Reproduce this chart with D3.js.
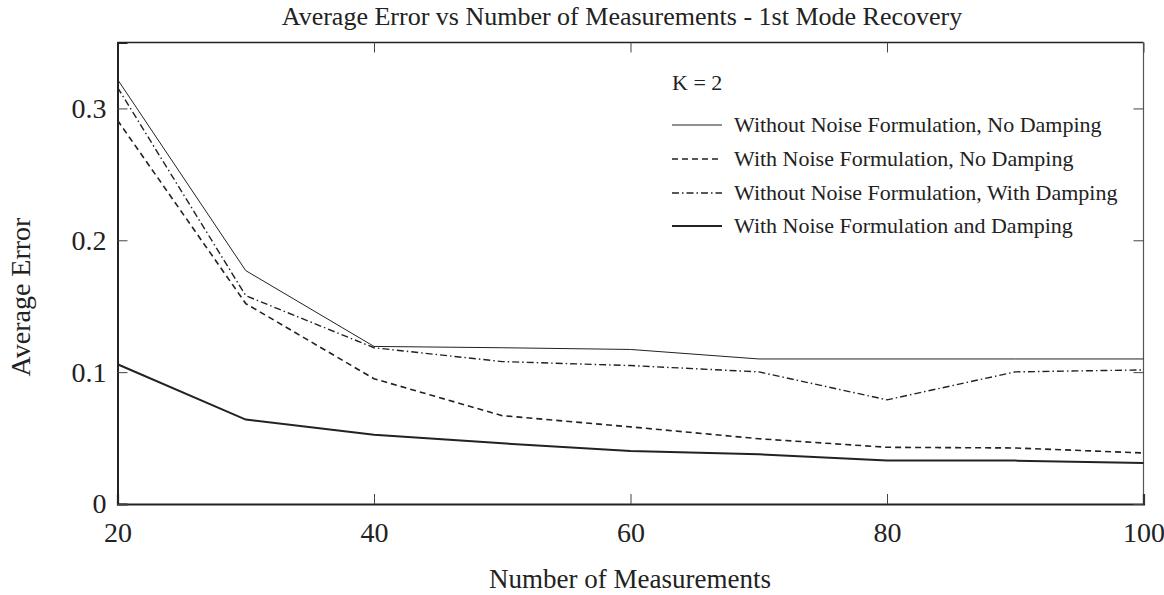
<!DOCTYPE html>
<html>
<head>
<meta charset="utf-8">
<script src="https://cdn.jsdelivr.net/npm/d3@7"></script>
<style>
  html, body { margin: 0; padding: 0; background: #fff; }
  svg { display: block; }
  text { font-family: "Liberation Serif", "Times New Roman", serif; fill: #222; }
</style>
</head>
<body>
<svg id="chart" width="1164" height="595"></svg>
<script>
// Number of measurements along the x axis
const measurements = [20, 30, 40, 50, 60, 70, 80, 90, 100];

// Average error for each configuration (K = 2)
const withoutNoiseNoDamping   = [0.322, 0.177, 0.1195, 0.1185, 0.1172, 0.110, 0.110, 0.110, 0.110];
const withNoiseNoDamping      = [0.291, 0.152, 0.0950, 0.0670, 0.0585, 0.0495, 0.0430, 0.0425, 0.0387];
const withoutNoiseWithDamping = [0.316, 0.158, 0.1185, 0.1080, 0.1050, 0.1002, 0.0790, 0.1002, 0.1017];
const withNoiseAndDamping     = [0.106, 0.064, 0.0525, 0.0460, 0.0402, 0.0377, 0.0330, 0.0329, 0.0311];

const xTicks = [20, 40, 60, 80, 100];
const yTicks = [0, 0.1, 0.2, 0.3];

const seriesNames = [
  "Without Noise Formulation, No Damping",
  "With Noise Formulation, No Damping",
  "Without Noise Formulation, With Damping",
  "With Noise Formulation and Damping"
];

const seriesValues = [withoutNoiseNoDamping, withNoiseNoDamping, withoutNoiseWithDamping, withNoiseAndDamping];
const seriesStyles = [
  { width: 1.0, dash: null },
  { width: 1.6, dash: "6,4" },
  { width: 1.4, dash: "7,3,1.5,3" },
  { width: 2.0, dash: null }
];

const svg = d3.select("#chart");
const margin = { left: 117.5, right: 1143.5, top: 42.5, bottom: 504 };

const x = d3.scaleLinear().domain([20, 100]).range([margin.left, margin.right]);
const y = d3.scaleLinear().domain([0, 0.35]).range([margin.bottom, margin.top]);

const ink = "#222";

// Frame: heavier bottom/left spines, lighter top/right
svg.append("line").attr("x1", margin.left).attr("x2", margin.right)
  .attr("y1", margin.top).attr("y2", margin.top).attr("stroke", ink).attr("stroke-width", 1.5);
svg.append("line").attr("x1", margin.right).attr("x2", margin.right)
  .attr("y1", margin.top).attr("y2", margin.bottom).attr("stroke", "#555").attr("stroke-width", 1.2);

// Bottom axis with inward ticks
const xAxis = d3.axisBottom(x).tickValues(xTicks).tickSize(-10).tickPadding(18)
  .tickFormat(d3.format("d"));
const gx = svg.append("g").attr("transform", `translate(0,${margin.bottom})`).call(xAxis);
gx.select(".domain").attr("stroke", ink).attr("stroke-width", 2.2);
gx.selectAll(".tick line").attr("stroke", "#444").attr("stroke-width", 1);
gx.selectAll(".tick text").attr("font-size", 28).attr("font-family", "Liberation Serif").attr("fill", ink);

// Top ticks
svg.append("g").attr("transform", `translate(0,${margin.top})`)
  .call(d3.axisTop(x).tickValues(xTicks).tickSize(-10).tickFormat(""))
  .call(g => g.select(".domain").remove())
  .selectAll(".tick line").attr("stroke", "#444");

// Left axis with inward ticks
const yAxis = d3.axisLeft(y).tickValues(yTicks).tickSize(-10).tickPadding(11)
  .tickFormat(d => d === 0 ? "0" : d3.format(".1f")(d));
const gy = svg.append("g").attr("transform", `translate(${margin.left},0)`).call(yAxis);
gy.select(".domain").attr("stroke", ink).attr("stroke-width", 2);
gy.selectAll(".tick line").attr("stroke", "#444").attr("stroke-width", 1);
gy.selectAll(".tick text").attr("font-size", 28).attr("font-family", "Liberation Serif").attr("fill", ink);

// Right ticks
svg.append("g").attr("transform", `translate(${margin.right},0)`)
  .call(d3.axisRight(y).tickValues(yTicks).tickSize(-10).tickFormat(""))
  .call(g => g.select(".domain").remove())
  .selectAll(".tick line").attr("stroke", "#444");

// Series lines
const line = d3.line().x((d, i) => x(measurements[i])).y(d => y(d));
seriesValues.forEach((vals, i) => {
  const s = seriesStyles[i];
  svg.append("path").datum(vals)
    .attr("d", line)
    .attr("fill", "none")
    .attr("stroke", ink)
    .attr("stroke-width", s.width)
    .attr("stroke-dasharray", s.dash);
});

// Title
svg.append("text").attr("x", 622).attr("y", 25).attr("text-anchor", "middle")
  .attr("font-size", 26).text("Average Error vs Number of Measurements - 1st Mode Recovery");

// Axis titles
svg.append("text").attr("x", 630).attr("y", 588).attr("text-anchor", "middle")
  .attr("font-size", 27).text("Number of Measurements");
svg.append("text").attr("transform", "translate(30,297) rotate(-90)").attr("text-anchor", "middle")
  .attr("font-size", 28).text("Average Error");

// Legend
const legend = svg.append("g").attr("transform", "translate(672,0)");
legend.append("text").attr("x", 0).attr("y", 90).attr("font-size", 22).text("K = 2");
const rowY = [125, 159, 193, 226];
seriesNames.forEach((name, i) => {
  const s = seriesStyles[i];
  legend.append("line").attr("x1", 0).attr("x2", 50).attr("y1", rowY[i]).attr("y2", rowY[i])
    .attr("stroke", ink).attr("stroke-width", s.width).attr("stroke-dasharray", s.dash);
  legend.append("text").attr("x", 62).attr("y", rowY[i] + 7).attr("font-size", 22).text(name);
});
</script>
</body>
</html>
